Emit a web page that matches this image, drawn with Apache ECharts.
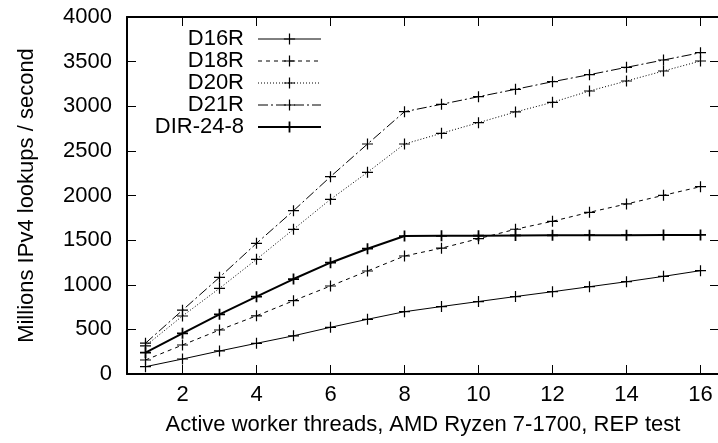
<!DOCTYPE html>
<html>
<head>
<meta charset="utf-8">
<script src="https://cdn.jsdelivr.net/npm/echarts@6/dist/echarts.min.js"></script>
<style>
html,body{margin:0;padding:0;background:#fff;}
#chart{width:718px;height:443px;}
</style>
</head>
<body>
<div id="chart"></div>
<script>
const threads = [1,2,3,4,5,6,7,8,9,10,11,12,13,14,15,16];
const xTickValues = [2,4,6,8,10,12,14,16];
const seriesNames = ['D16R','D18R','D20R','D21R','DIR-24-8'];
const d16r = [82,168,258,344,428,523,613,698,756,812,868,922,978,1034,1094,1158];
const d18r = [157,325,493,652,821,986,1154,1322,1410,1516,1622,1711,1812,1905,2002,2099];
const d20r = [315,650,960,1285,1621,1957,2260,2577,2697,2816,2936,3044,3171,3283,3395,3507];
const d21r = [345,715,1083,1464,1830,2211,2577,2939,3022,3107,3190,3275,3354,3436,3518,3600];
const dir248 = [239,456,669,866,1064,1247,1404,1546,1548,1550,1552,1554,1555,1556,1557,1558];

const FONT = '"Liberation Sans", Arial, Helvetica, sans-serif';
const FS = 22;
const thinPlus = 'path://M0,4.45H10V5.55H0Z M4.45,0H5.55V10H4.45Z';
const boldPlus = 'path://M0,4.2H10V5.8H0Z M4.2,0H5.8V10H4.2Z';
const lineTypes = ['solid', [4,4], [1,2], [10,3,2,3], 'solid'];
const lineWidths = [1, 1, 1, 1, 2];

function pairs(vals){ return threads.map((t,i)=>[t, vals[i]]); }

function mk(idx, vals){
  return {
    name: seriesNames[idx], type: 'line', data: pairs(vals),
    symbol: idx === 4 ? boldPlus : thinPlus, symbolSize: 11, symbolKeepAspect: true,
    showAllSymbol: true,
    itemStyle: {color: '#000'},
    lineStyle: {color: '#000', width: lineWidths[idx], type: lineTypes[idx]},
    emphasis: {disabled: true},
    animation: false
  };
}

const chart = echarts.init(document.getElementById('chart'), null, {renderer: 'canvas'});
const tickStyle = {show: true, inside: true, length: 9, lineStyle: {color: '#000', width: 1}};
chart.setOption({
  animation: false,
  backgroundColor: '#fff',
  textStyle: {fontFamily: FONT, color: '#000'},
  grid: {left: 127, top: 17, width: 592, height: 357, containLabel: false, outerBoundsMode: 'none'},
  legend: {
    data: seriesNames.map((n, i) => ({
      name: n,
      lineStyle: {color: '#000', width: lineWidths[i], type: lineTypes[i]},
      itemStyle: {color: '#000'}
    })),
    orient: 'vertical', align: 'right',
    right: 396, top: 28, padding: 0,
    itemWidth: 63, itemHeight: 14, itemGap: 0,
    textStyle: {fontFamily: FONT, fontSize: FS, color: '#000', lineHeight: 22, padding: [0, 9, 0, 0]},
    selectedMode: false
  },
  xAxis: [{
    type: 'value', min: 0.5, max: 16.5, position: 'bottom',
    name: 'Active worker threads, AMD Ryzen 7-1700, REP test',
    nameLocation: 'middle', nameGap: 40,
    nameTextStyle: {fontFamily: FONT, fontSize: FS, color: '#000'},
    axisLine: {show: true, onZero: false, lineStyle: {color: '#000', width: 2}},
    axisTick: Object.assign({customValues: xTickValues}, tickStyle),
    axisLabel: {customValues: xTickValues, margin: 10, fontFamily: FONT, fontSize: FS, color: '#000',
      formatter: v => String(v)},
    splitLine: {show: false}
  },{
    type: 'value', min: 0.5, max: 16.5, position: 'top',
    axisLine: {show: true, onZero: false, lineStyle: {color: '#000', width: 2}},
    axisTick: Object.assign({customValues: xTickValues}, tickStyle),
    axisLabel: {show: false},
    splitLine: {show: false}
  }],
  yAxis: [{
    type: 'value', min: 0, max: 4000, interval: 500, position: 'left',
    name: 'Millions IPv4 lookups / second',
    nameLocation: 'middle', nameGap: 89,
    nameTextStyle: {fontFamily: FONT, fontSize: FS, color: '#000'},
    axisLine: {show: true, onZero: false, lineStyle: {color: '#000', width: 2}},
    axisTick: tickStyle,
    axisLabel: {margin: 15, fontFamily: FONT, fontSize: FS, color: '#000', formatter: v => String(v)},
    splitLine: {show: false}
  },{
    type: 'value', min: 0, max: 4000, interval: 500, position: 'right',
    axisLine: {show: true, onZero: false, lineStyle: {color: '#000', width: 2}},
    axisTick: tickStyle,
    axisLabel: {show: false},
    splitLine: {show: false}
  }],
  series: [
    mk(0, d16r),
    mk(1, d18r),
    mk(2, d20r),
    mk(3, d21r),
    mk(4, dir248)
  ]
});
</script>
</body>
</html>
